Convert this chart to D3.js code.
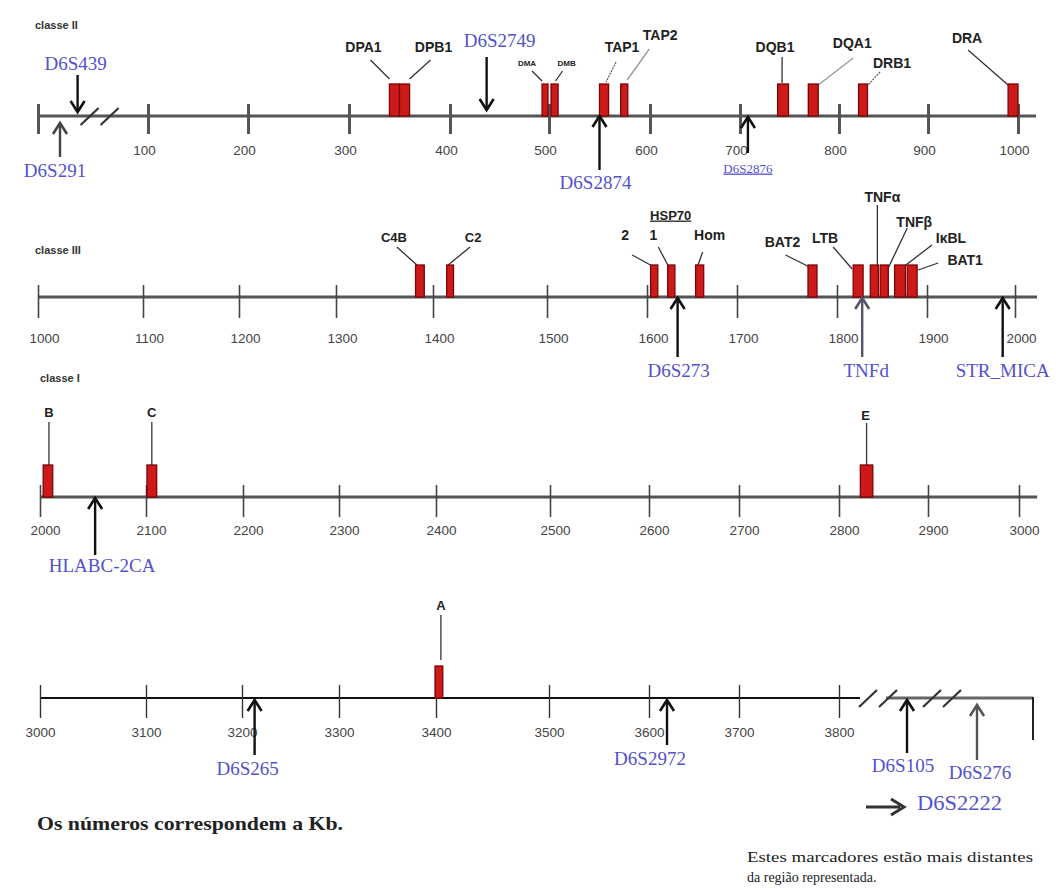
<!DOCTYPE html>
<html>
<head>
<meta charset="utf-8">
<script src="https://cdn.jsdelivr.net/npm/d3@7"></script>
<style>
  body { margin: 0; background: #fff; }
  svg { display: block; }
</style>
</head>
<body>
<svg id="map"></svg>
<script>
// ---- data (positions in kb) ----
const rowTicks = [
  [0, 100, 200, 300, 400, 500, 600, 700, 800, 900, 1000],
  [1000, 1100, 1200, 1300, 1400, 1500, 1600, 1700, 1800, 1900, 2000],
  [2000, 2100, 2200, 2300, 2400, 2500, 2600, 2700, 2800, 2900, 3000],
  [3000, 3100, 3200, 3300, 3400, 3500, 3600, 3700, 3800]
]
const rowTitles = ["classe II", "classe III", "classe I", ""]
const rowExtent = [[0, 1020], [1000, 2025], [2000, 3020], [3000, 3994]]
const breakPoints = [56, 3839, 3903]

const geneLabels = ["DPA1", "DPB1", "DMA", "DMB", "TAP1", "TAP2", "DQB1", "DQA1", "DRB1", "DRA",
  "C4B", "C2", "2", "1", "Hom", "BAT2", "LTB", "TNFα", "TNFβ", "IκBL", "BAT1",
  "B", "C", "E", "A"]
const geneStart = [340, 350, 493, 502, 550, 571, 738, 769, 822, 989,
  1382, 1412, 1604, 1623, 1654, 1771, 1818, 1837, 1848, 1864, 1878,
  2003, 2101, 2824, 3399]
const geneEnd = [350, 360, 499, 509, 559, 578, 749, 779, 832, 1000,
  1391, 1418, 1612, 1631, 1663, 1780, 1829, 1846, 1857, 1876, 1889,
  2012, 2111, 2838, 3406]

const markerNames = ["D6S291", "D6S439", "D6S2749", "D6S2874", "D6S2876", "D6S273", "TNFd", "STR_MICA",
  "HLABC-2CA", "D6S265", "D6S2972", "D6S105", "D6S276"]
const markerKb = [20, 36, 437, 550, 708, 1634, 1828, 1986, 2052, 3213, 3620, 3868, 3938]

// ---- layout ----
const W = 1056, H = 888
const rowY = [116, 297, 497, 698]
const rowRange = [
  [38, 148, 248, 349, 450, 549, 650, 740, 839, 928, 1018],
  [38, 143, 239, 336, 433, 547, 647, 737, 837, 927, 1015],
  [40, 146, 243, 339, 436, 550, 649, 739, 839, 928, 1019],
  [40, 146, 242, 339, 436, 549, 649, 739, 839]
]
const tickStyle = [
  { up: 12, down: 18, w: 3, c: "#555", ly: 34, ldx: -4 },
  { up: 12, down: 21, w: 1.6, c: "#444", ly: 41, ldx: 6 },
  { up: 12, down: 20, w: 1.6, c: "#444", ly: 33, ldx: 5 },
  { up: 13, down: 20, w: 1.4, c: "#333", ly: 34, ldx: 0 }
]
const titlePos = [[35, 25], [35, 250], [40, 378]]
const barH = 32
// label offsets relative to (bar centre, axis y): l = label, a -> b = leader line
const geneLayout = {
  "DPA1": { l: [-31, -69], a: [-24, -56], b: [-5, -37] },
  "DPB1": { l: [29, -69], a: [26, -56], b: [5, -37] },
  "DMA": { l: [-18, -53], a: [-13, -45], b: [-3, -35], s: 8 },
  "DMB": { l: [12, -53], a: [8, -45], b: [1, -35], s: 8 },
  "TAP1": { l: [18, -69], a: [12, -54], b: [2, -34], c: "#666", dash: "2,1" },
  "TAP2": { l: [36, -81], a: [25, -67], b: [3, -36], c: "#999" },
  "DQB1": { l: [-8, -69], a: [-1, -59], b: [-1, -33] },
  "DQA1": { l: [39, -73], a: [40, -58], b: [5, -31], c: "#999" },
  "DRB1": { l: [29, -53], a: [17, -44], b: [5, -31], c: "#666", dash: "2,1" },
  "DRA": { l: [-46, -78], a: [-45, -66], b: [-5, -31] },
  "C4B": { l: [-26, -60], a: [-23, -50], b: [-3, -32], s: 13 },
  "C2": { l: [23, -60], a: [20, -50], b: [-2, -32], s: 13 },
  "2": { l: [-29, -62], a: [-22, -42], b: [-2, -31] },
  "1": { l: [-18, -62], a: [-13, -50], b: [-3, -31] },
  "Hom": { l: [10, -62], a: [3, -45], b: [-2, -31] },
  "BAT2": { l: [-30, -55], a: [-27, -42], b: [-3, -30] },
  "LTB": { l: [-33, -59], a: [-25, -50], b: [-6, -28] },
  "TNFα": { l: [8, -100], a: [3, -92], b: [3, -32] },
  "TNFβ": { l: [30, -75], a: [23, -69], b: [4, -29] },
  "IκBL": { l: [51, -59], a: [32, -52], b: [2, -29] },
  "BAT1": { l: [53, -37], a: [26, -34], b: [6, -27] },
  "B": { l: [1, -85], a: [1, -75], b: [1, -32], s: 13 },
  "C": { l: [0, -85], a: [0, -75], b: [0, -32], s: 13 },
  "E": { l: [-1, -82], a: [0, -74], b: [0, -32], s: 13 },
  "A": { l: [2, -93], a: [2, -83], b: [2, -38], s: 13 }
}
// arrow tip / tail and text offsets relative to axis y
const markerLayout = {
  "D6S291": { tip: 7, tail: 41, t: 54, dx: -5, c: "#444" },
  "D6S439": { tip: -4, tail: -41, t: -53, dx: -2 },
  "D6S2749": { tip: -6, tail: -59, t: -76, dx: 13 },
  "D6S2874": { tip: 0, tail: 54, t: 66, dx: -4 },
  "D6S2876": { tip: 1, tail: 37, t: 52, dx: 0, s: 13, u: true },
  "D6S273": { tip: 1, tail: 60, t: 73, dx: 1 },
  "TNFd": { tip: 1, tail: 60, t: 73, dx: 4, c: "#556" },
  "STR_MICA": { tip: 1, tail: 60, t: 73, dx: 0 },
  "HLABC-2CA": { tip: 1, tail: 58, t: 68, dx: 7 },
  "D6S265": { tip: 2, tail: 57, t: 70, dx: -7 },
  "D6S2972": { tip: 2, tail: 47, t: 60, dx: -17 },
  "D6S105": { tip: 2, tail: 55, t: 67, dx: -4 },
  "D6S276": { tip: 7, tail: 62, t: 74, dx: 3, c: "#555" }
}
const blue = "#5252cc"
const sans = "'Liberation Sans', Arial, sans-serif"
const serif = "'Liberation Serif', 'Times New Roman', serif"

const rowOf = kb => Math.min(3, Math.floor(kb / 1000))
const scales = rowTicks.map((t, i) => d3.scaleLinear().domain(t).range(rowRange[i]))

const svg = d3.select("#map").attr("width", W).attr("height", H)

//Draw rows: axis line, ticks, labels
rowTicks.forEach((ticks, i) => {
  const x = scales[i], y0 = rowY[i], st = tickStyle[i]
  const g = svg.append("g").attr("transform", `translate(0,${y0})`)
  if (i < 3) {
    g.append("line")
      .attr("x1", x(rowExtent[i][0])).attr("x2", x(rowExtent[i][1]))
      .attr("stroke", "#555").attr("stroke-width", 3)
  } else {
    g.append("line")
      .attr("x1", x(rowExtent[i][0])).attr("x2", x(breakPoints[1]) - 18)
      .attr("stroke", "#111").attr("stroke-width", 2)
    g.append("line")
      .attr("x1", x(breakPoints[1]) + 8).attr("x2", x(rowExtent[i][1]))
      .attr("stroke", "#666").attr("stroke-width", 3)
    g.append("line")
      .attr("x1", x(rowExtent[i][1])).attr("x2", x(rowExtent[i][1]))
      .attr("y1", -1).attr("y2", 42)
      .attr("stroke", "#222").attr("stroke-width", 2)
  }
  const axis = d3.axisBottom(x).tickValues(ticks).tickSize(0)
    .tickFormat(d => d === 0 ? "" : d)
  const ax = g.append("g").call(axis)
  ax.select(".domain").remove()
  ax.selectAll(".tick line")
    .attr("y1", -st.up).attr("y2", st.down)
    .attr("stroke", st.c).attr("stroke-width", st.w)
  ax.selectAll(".tick text")
    .attr("y", st.ly).attr("dy", "0.35em").attr("x", st.ldx)
    .attr("fill", "#444").style("font-family", sans).style("font-size", "13.5px")

  if (rowTitles[i]) {
    svg.append("text")
      .attr("x", titlePos[i][0]).attr("y", titlePos[i][1]).attr("dy", "0.35em")
      .style("font-family", sans).style("font-size", "11px").style("font-weight", "bold")
      .attr("fill", "#333").text(rowTitles[i])
  }
})

//Break marks "//"
breakPoints.forEach(kb => {
  const r = rowOf(kb), x = scales[r](kb), y0 = rowY[r]
  ;[-10, 10].forEach(off => {
    svg.append("line")
      .attr("x1", x + off - 9).attr("y1", y0 + 9)
      .attr("x2", x + off + 9).attr("y2", y0 - 8)
      .attr("stroke", "#333").attr("stroke-width", 2.2)
  })
})

//Genes
geneLabels.forEach((name, i) => {
  const r = rowOf(geneStart[i]), x = scales[r], y0 = rowY[r]
  const x1 = x(geneStart[i]), x2 = x(geneEnd[i]), cx = (x1 + x2) / 2
  const lay = geneLayout[name]
  svg.append("line")
    .attr("x1", cx + lay.a[0]).attr("y1", y0 + lay.a[1])
    .attr("x2", cx + lay.b[0]).attr("y2", y0 + lay.b[1])
    .attr("stroke", lay.c || "#333").attr("stroke-width", 1.3)
    .attr("stroke-dasharray", lay.dash || null)
  svg.append("rect")
    .attr("x", x1).attr("y", y0 - barH)
    .attr("width", x2 - x1).attr("height", barH)
    .attr("fill", "#cc1a1a").attr("stroke", "#7a0505").attr("stroke-width", 1.3)
  svg.append("text")
    .attr("x", cx + lay.l[0]).attr("y", y0 + lay.l[1]).attr("dy", "0.35em")
    .attr("text-anchor", "middle")
    .style("font-family", sans).style("font-weight", "bold")
    .style("font-size", (lay.s || 14) + "px")
    .attr("fill", "#222").text(name)
})

//HSP70 group label
{
  const k = geneStart[geneLabels.indexOf("1")], r = rowOf(k)
  svg.append("text")
    .attr("x", scales[r](k) + 3).attr("y", rowY[r] - 82).attr("dy", "0.35em")
    .attr("text-anchor", "middle").attr("text-decoration", "underline")
    .style("font-family", sans).style("font-weight", "bold").style("font-size", "13px")
    .attr("fill", "#222").text("HSP70")
}

//Markers (arrows + names)
markerNames.forEach((name, i) => {
  const kb = markerKb[i], r = rowOf(kb), x = scales[r](kb), y0 = rowY[r]
  const lay = markerLayout[name]
  const tip = y0 + lay.tip, tail = y0 + lay.tail
  const k = tail > tip ? 1 : -1
  const col = lay.c || "#111"
  svg.append("line")
    .attr("x1", x).attr("x2", x).attr("y1", tail).attr("y2", tip + k)
    .attr("stroke", col).attr("stroke-width", 2.4)
  svg.append("path")
    .attr("d", d3.line()([[x - 7, tip + 11 * k], [x, tip], [x + 7, tip + 11 * k]]))
    .attr("fill", "none").attr("stroke", col).attr("stroke-width", 2.6)
  svg.append("text")
    .attr("x", x + lay.dx).attr("y", y0 + lay.t).attr("dy", "0.35em")
    .attr("text-anchor", "middle")
    .attr("text-decoration", lay.u ? "underline" : null)
    .style("font-family", serif).style("font-size", (lay.s || 19) + "px")
    .attr("fill", blue).text(name)
})

//Footer notes
svg.append("text")
  .attr("x", 37).attr("y", 823).attr("dy", "0.35em")
  .attr("textLength", 306).attr("lengthAdjust", "spacingAndGlyphs")
  .style("font-family", serif).style("font-size", "19px").style("font-weight", "bold")
  .attr("fill", "#222").text("Os números correspondem a Kb.")

svg.append("path")
  .attr("d", "M866,807 L900,807 M891,799 L904,807 L891,815")
  .attr("fill", "none").attr("stroke", "#333").attr("stroke-width", 3)
svg.append("text")
  .attr("x", 917).attr("y", 803).attr("dy", "0.35em")
  .attr("textLength", 85).attr("lengthAdjust", "spacingAndGlyphs")
  .style("font-family", serif).style("font-size", "21px")
  .attr("fill", blue).text("D6S2222")

const note = ["Estes marcadores estão mais distantes", "da região representada."]
note.forEach((t, i) => {
  svg.append("text")
    .attr("x", 747).attr("y", 857 + i * 20).attr("dy", "0.35em")
    .attr("textLength", i === 0 ? 286 : null).attr("lengthAdjust", "spacingAndGlyphs")
    .style("font-family", serif).style("font-size", "14px")
    .attr("fill", "#222").text(t)
})
</script>
</body>
</html>
